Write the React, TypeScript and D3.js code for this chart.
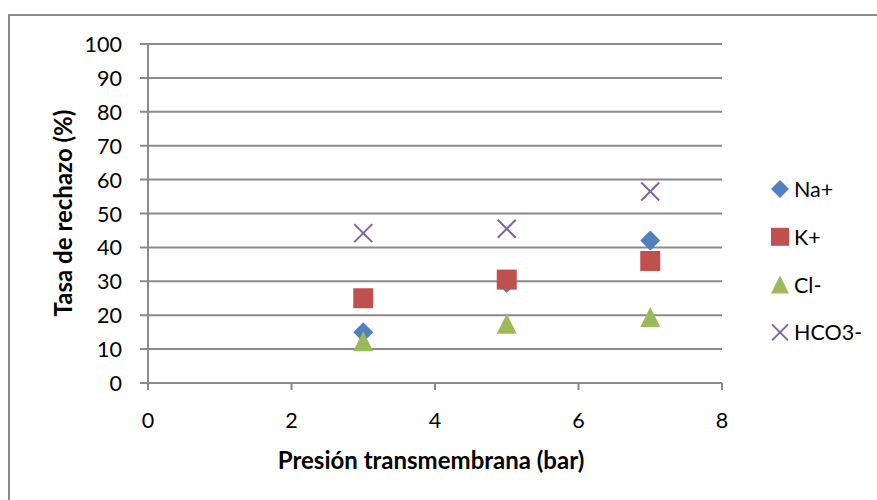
import React from "react";
import * as d3 from "d3";

// Transmembrane pressure (bar) for each measurement
const pressures = [3, 5, 7];

// Rejection rate (%) per ion
const naValues = [15, 29.5, 42];
const kValues = [25, 30.5, 36];
const clValues = [12.3, 17.5, 19.5];
const hco3Values = [44.2, 45.5, 56.5];

const seriesNames = ["Na+", "K+", "Cl-", "HCO3-"];
const seriesColors = ["#4F81BD", "#C0504D", "#9BBB59", "#8064A2"];
const seriesShapes = ["diamond", "square", "triangle", "cross"];
const seriesValues = [naValues, kValues, clValues, hco3Values];

const xTicks = [0, 2, 4, 6, 8];
const yTicks = [0, 10, 20, 30, 40, 50, 60, 70, 80, 90, 100];

const W = 877;
const H = 500;
const FONT = "Lato, 'Open Sans', sans-serif";
const LABEL_SIZE = 21.5;
const TITLE_SIZE = 24;

function markerPath(shape: string, s: number): string {
  const h = s / 2;
  const p = d3.path();
  if (shape === "diamond") {
    p.moveTo(0, -h);
    p.lineTo(h, 0);
    p.lineTo(0, h);
    p.lineTo(-h, 0);
    p.closePath();
  } else if (shape === "square") {
    p.rect(-h, -h, s, s);
  } else if (shape === "triangle") {
    p.moveTo(0, -h);
    p.lineTo(h, h);
    p.lineTo(-h, h);
    p.closePath();
  } else {
    p.moveTo(-h, -h);
    p.lineTo(h, h);
    p.moveTo(h, -h);
    p.lineTo(-h, h);
  }
  return p.toString();
}

function Marker({ shape, color, x, y, size }: { shape: string; color: string; x: number; y: number; size: number }) {
  const d = markerPath(shape, size);
  if (shape === "cross") {
    return <path d={d} transform={`translate(${x},${y})`} fill="none" stroke={color} strokeWidth={2} />;
  }
  return <path d={d} transform={`translate(${x},${y})`} fill={color} />;
}

export default function App() {
  const x = d3.scaleLinear().domain([0, 8]).range([148, 722]);
  const y = d3.scaleLinear().domain([0, 100]).range([383, 44]);
  const grid = "#8a8a8a";

  return (
    <svg width={W} height={H} style={{ position: "absolute", left: 0, top: 0, background: "#fff" }}>
      <rect x={9} y={15} width={900} height={600} fill="#fff" stroke="#8a8a8a" strokeWidth={2} />

      {/* horizontal gridlines with tick stubs */}
      {yTicks.map((t) => (
        <g key={`gy${t}`}>
          <line x1={140} x2={x(8)} y1={y(t)} y2={y(t)} stroke={grid} strokeWidth={2} />
          <text x={122} y={y(t)} textAnchor="end" dominantBaseline="central" fontFamily={FONT} fontSize={LABEL_SIZE} fill="#000">
            {t}
          </text>
        </g>
      ))}

      {/* y axis */}
      <line x1={x(0)} x2={x(0)} y1={y(100)} y2={y(0) + 7} stroke={grid} strokeWidth={2} />

      {/* x axis ticks and labels */}
      {xTicks.map((t) => (
        <g key={`gx${t}`}>
          <line x1={x(t)} x2={x(t)} y1={y(0)} y2={y(0) + 7} stroke={grid} strokeWidth={2} />
          <text x={x(t)} y={420} textAnchor="middle" dominantBaseline="central" fontFamily={FONT} fontSize={LABEL_SIZE} fill="#000">
            {t}
          </text>
        </g>
      ))}

      {/* data points */}
      {seriesValues.map((vals, si) =>
        vals.map((v, i) => (
          <Marker
            key={`m${si}-${i}`}
            shape={seriesShapes[si]}
            color={seriesColors[si]}
            x={x(pressures[i])}
            y={y(v)}
            size={seriesShapes[si] === "cross" ? 18 : 20}
          />
        ))
      )}

      {/* axis titles */}
      <text x={431} y={459} textAnchor="middle" dominantBaseline="central" fontFamily={FONT} fontSize={TITLE_SIZE} fontWeight="bold" fill="#000">
        Presión transmembrana (bar)
      </text>
      <text
        transform="translate(62,213) rotate(-90)"
        textAnchor="middle"
        dominantBaseline="central"
        fontFamily={FONT}
        fontSize={TITLE_SIZE}
        fontWeight="bold"
        fill="#000"
      >
        Tasa de rechazo (%)
      </text>

      {/* legend */}
      {seriesNames.map((name, i) => {
        const ly = 189 + i * 47.8;
        return (
          <g key={`lg${i}`}>
            <Marker shape={seriesShapes[i]} color={seriesColors[i]} x={780} y={ly} size={seriesShapes[i] === "cross" ? 16 : 18} />
            <text x={794} y={ly} dominantBaseline="central" fontFamily={FONT} fontSize={LABEL_SIZE} fill="#000">
              {name}
            </text>
          </g>
        );
      })}
    </svg>
  );
}
